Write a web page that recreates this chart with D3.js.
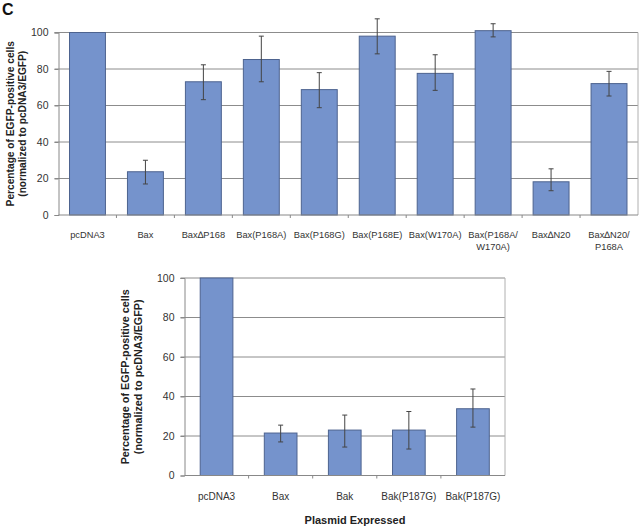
<!DOCTYPE html>
<html><head><meta charset="utf-8">
<script src="https://cdn.jsdelivr.net/npm/d3@7"></script>
<style>body{margin:0;background:#fff}svg{display:block;font-family:"Liberation Sans",Arial,sans-serif}</style>
</head><body>
<svg id="c" width="640" height="526"></svg>
<script>
// Top panel data
const topCategories = [["pcDNA3"],["Bax"],["Bax\u2206P168"],["Bax(P168A)"],["Bax(P168G)"],["Bax(P168E)"],["Bax(W170A)"],["Bax(P168A/","W170A)"],["Bax\u2206N20"],["Bax\u2206N20/","P168A"]];
const topValues = [100, 23.7, 73, 85.2, 68.7, 98, 77.6, 101, 18.2, 72];
const topErrLow = [100, 17, 63.2, 73, 58.8, 88.3, 68.3, 97.6, 13.3, 65.2];
const topErrHigh = [100, 30, 82.3, 98, 78, 107.5, 87.8, 104.8, 25.3, 78.7];
// Bottom panel data
const botCategories = [["pcDNA3"],["Bax"],["Bak"],["Bak(P187G)"],["Bak(P187G)"]];
const botValues = [100, 21.5, 23, 23, 33.8];
const botErrLow = [100, 17, 14.4, 13.4, 24.5];
const botErrHigh = [100, 25.5, 30.6, 32.4, 43.8];
const yTicks = [0, 20, 40, 60, 80, 100];

const svg = d3.select("#c");
const fill = "#7593cc", stroke = "#4d638f", grid = "#8c8c8c", txt = "#333";

svg.append("text").attr("x", 2).attr("y", 15).attr("font-size", 16).attr("font-weight", "bold").attr("fill", "#111").text("C");

function panel(o) {
  const {x0, x1, y0, y1, cats, vals, lo, hi, pad, fs, labY, titleX, titleFs} = o;
  const g = svg.append("g");
  const x = d3.scaleBand().domain(d3.range(cats.length)).range([x0, x1]).paddingInner(pad).paddingOuter(pad / 2);
  const xb = d3.scaleBand().domain(d3.range(cats.length)).range([x0, x1]);
  const y = d3.scaleLinear().domain([0, 100]).range([y1, y0]);
  // gridlines
  g.selectAll(".gl").data(yTicks.filter(d => d > 0)).join("line")
    .attr("x1", x0 - 4).attr("x2", x1).attr("y1", d => y(d)).attr("y2", d => y(d))
    .attr("stroke", grid).attr("stroke-width", 1);
  // right border
  g.append("line").attr("x1", x1).attr("x2", x1).attr("y1", y(100)).attr("y2", y1).attr("stroke", "#b0b0b0");
  // y axis
  const ya = d3.axisLeft(y).tickValues(yTicks).tickSize(4).tickPadding(6);
  const yg = g.append("g").attr("transform", `translate(${x0},0)`).call(ya);
  yg.select(".domain").attr("stroke", "#888");
  yg.selectAll(".tick line").attr("stroke", "#888");
  yg.selectAll("text").attr("font-size", 10.5).attr("fill", txt).attr("font-family", "Liberation Sans, Arial");
  // bars
  g.selectAll(".bar").data(vals).join("rect")
    .attr("x", (d, i) => x(i)).attr("width", x.bandwidth())
    .attr("y", d => y(d)).attr("height", d => y(0) - y(d))
    .attr("fill", fill).attr("stroke", stroke).attr("stroke-width", 1);
  // error bars
  const eb = g.selectAll(".eb").data(vals.map((v, i) => i).filter(i => hi[i] !== lo[i])).join("g");
  eb.append("line").attr("x1", i => x(i) + x.bandwidth() / 2).attr("x2", i => x(i) + x.bandwidth() / 2)
    .attr("y1", i => y(hi[i])).attr("y2", i => y(lo[i])).attr("stroke", "#444").attr("stroke-width", 1);
  [hi, lo].forEach(arr => eb.append("line")
    .attr("x1", i => x(i) + x.bandwidth() / 2 - 2.5).attr("x2", i => x(i) + x.bandwidth() / 2 + 2.5)
    .attr("y1", i => y(arr[i])).attr("y2", i => y(arr[i])).attr("stroke", "#444").attr("stroke-width", 1));
  // x axis
  g.append("line").attr("x1", x0).attr("x2", x1).attr("y1", y1).attr("y2", y1).attr("stroke", "#888");
  g.selectAll(".xt").data(d3.range(1, cats.length)).join("line")
    .attr("x1", i => xb(i)).attr("x2", i => xb(i)).attr("y1", y1).attr("y2", y1 + 3).attr("stroke", "#888");
  // x labels
  const lt = g.selectAll(".xl").data(cats).join("text")
    .attr("x", (d, i) => xb(i) + xb.bandwidth() / 2).attr("y", labY)
    .attr("text-anchor", "middle").attr("font-size", fs).attr("fill", txt);
  lt.selectAll("tspan").data(d => d).join("tspan")
    .attr("x", function() { return this.parentNode.getAttribute("x"); })
    .attr("dy", (d, i) => i === 0 ? 0 : fs * 1.25).text(d => d);
  // y title
  const cy = (y0 + y1) / 2;
  const tt = g.append("text").attr("transform", `translate(${titleX},${cy}) rotate(-90)`)
    .attr("text-anchor", "middle").attr("font-size", titleFs).attr("font-weight", "bold").attr("fill", "#222");
  tt.append("tspan").attr("x", 0).attr("dy", 0).text("Percentage of EGFP-positive cells");
  tt.append("tspan").attr("x", 0).attr("dy", titleFs * 1.2).text("(normalized to pcDNA3/EGFP)");
  return {x, y};
}

panel({x0: 58.5, x1: 638, y0: 32.5, y1: 215, cats: topCategories, vals: topValues, lo: topErrLow, hi: topErrHigh,
  pad: 0.38, fs: 9.3, labY: 238, titleX: 14, titleFs: 10.2});
panel({x0: 184.5, x1: 505, y0: 278, y1: 475.5, cats: botCategories, vals: botValues, lo: botErrLow, hi: botErrHigh,
  pad: 0.49, fs: 10, labY: 500, titleX: 129, titleFs: 10.8});

svg.append("text").attr("x", 355).attr("y", 524).attr("text-anchor", "middle").attr("font-size", 11)
  .attr("font-weight", "bold").attr("fill", "#222").text("Plasmid Expressed");
</script>
</body></html>
